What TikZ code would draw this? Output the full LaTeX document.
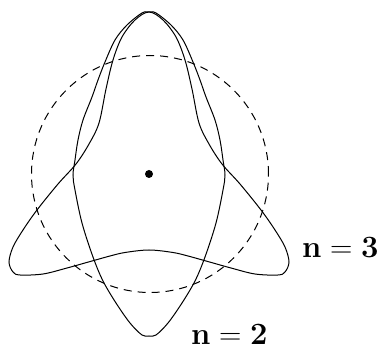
\documentclass[tikz,border=0pt]{standalone}
\usepackage{fontspec}

\newcommand{\modelabel}[1]{\textbf{n}\hspace{0.278em}=\hspace{0.278em}\textbf{#1}}

\begin{document}
\begin{tikzpicture}[
  x=1pt, y=1pt,
  mode/.style={line width=1pt, smooth cycle, tension=0.55},
  ring/.style={line width=1pt, dash pattern=on 8pt off 6pt},
  hub/.style={circle, fill, inner sep=0pt, minimum size=8pt},
  lbl/.style={font=\fontsize{31}{36}\selectfont, inner sep=0pt, anchor=base west}
]
  \useasboundingbox (0,0) rectangle (381,351);
  \node[hub] (centre) at (149,177) {};

  \draw[ring] (150,177) circle (118.5);

  % n = 2
  \draw[mode] plot coordinates {
    (149,339) (156,338) (171,326) (183,311) (193,289) (200,271) (206,254)
    (215,231) (220,211) (223,191) (225,176) (223,161) (216,128) (205,94)
    (195,70) (182,48) (168,28) (156,16) (149,15)
    (142,16) (130,28) (116,48) (103,70) (93,94) (82,128) (75,161)
    (73,176) (75,191) (78,211) (83,231) (92,254) (98,271) (105,289)
    (115,311) (127,326) (142,338)};
  % n = 3
  \draw[mode] plot coordinates {
    (149,339) (163,331) (176,314) (185,291) (192,262) (199,228) (209,207)
    (222,187) (240,167) (261,141) (275,121) (285,104) (289,89)
    (285,79) (278,76) (255,77) (231,83) (206,90) (188,95) (173,98.5)
    (149,101)
    (125,98.5) (110,95) (92,90) (67,83) (43,77) (20,76) (13,79)
    (9,89) (13,104) (23,121) (37,141) (58,167) (76,187) (89,207)
    (99,228) (106,262) (113,291) (122,314) (135,331)};

  \node[lbl] (nthree) at (302,93) {\modelabel{3}};
  \node[lbl] (ntwo) at (191,6) {\modelabel{2}};
\end{tikzpicture}
\end{document}
